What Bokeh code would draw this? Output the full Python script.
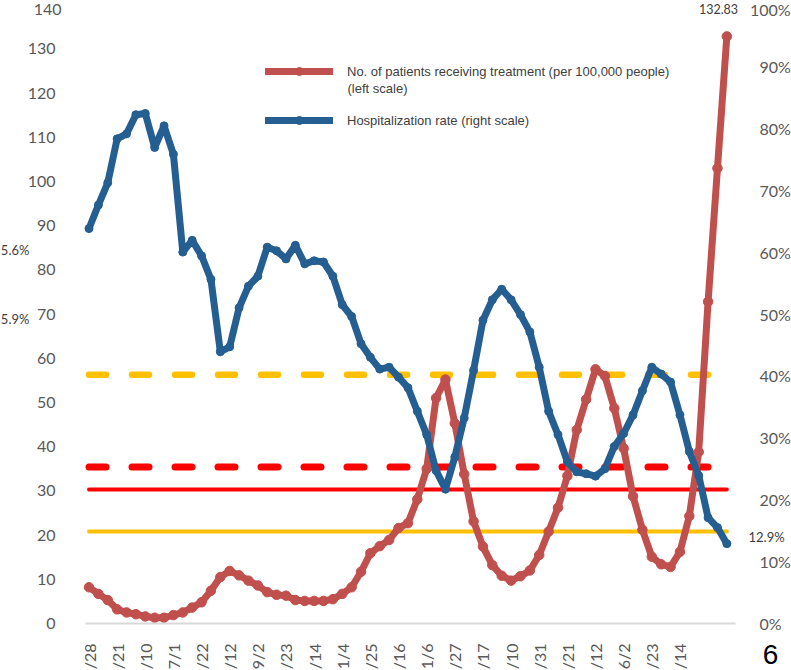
import math
from bokeh.plotting import figure
from bokeh.models import (Range1d, LinearAxis, FixedTicker, PrintfTickFormatter,
                          Legend, LegendItem, Label)
from bokeh.embed import file_html
from bokeh.resources import INLINE

# ---- data ----
x_labels = ["/28", "/21", "/10", "7/1", "/22", "/12", "9/2", "/23", "/14", "1/4", "/25",
            "/16", "1/6", "/27", "/17", "/10", "/31", "/21", "/12", "6/2", "/23", "/14"]

patients = [8.2, 6.7, 5.3, 3.2, 2.5, 2.1, 1.6, 1.3, 1.3, 1.9, 2.5, 3.6, 4.8, 7.4, 10.5,
            11.9, 10.9, 9.7, 8.6, 7.1, 6.5, 6.3, 5.3, 5.1, 5.1, 5.1, 5.5, 6.7, 8.2, 11.7,
            15.9, 17.5, 18.9, 21.6, 22.7, 28.1, 35.0, 51.0, 55.2, 45.3, 33.8, 23.1, 17.4,
            13.2, 10.8, 9.7, 10.7, 12.0, 15.5, 20.8, 26.2, 33.4, 43.8, 50.7, 57.5, 56.0,
            48.7, 39.6, 28.8, 21.2, 15.1, 13.4, 12.8, 16.2, 24.3, 38.8, 72.8, 103.0, 132.83]

hosp_rate = [63.8, 67.6, 71.2, 78.3, 79.1, 82.2, 82.4, 76.9, 80.4, 75.8, 60.0, 61.9, 59.4,
             55.6, 43.9, 44.7, 51.0, 54.5, 56.1, 60.8, 60.2, 58.9, 61.1, 58.1, 58.6, 58.4,
             56.1, 51.5, 49.6, 45.2, 43.0, 41.1, 41.4, 39.8, 38.1, 34.3, 30.5, 24.7, 21.7,
             26.9, 33.2, 40.9, 49.0, 52.3, 54.0, 52.3, 49.9, 47.1, 41.4, 34.3, 30.5, 26.1,
             24.5, 24.2, 23.8, 25.0, 28.6, 30.7, 33.7, 37.6, 41.4, 40.3, 39.0, 33.7, 27.8,
             23.9, 17.1, 15.5, 12.9]

patients_stage3 = 20.8    # left scale
patients_stage4 = 30.3    # left scale
hosp_stage3 = 40.2        # right scale (%)
hosp_stage4 = 25.3        # right scale (%)

left_ticks = list(range(0, 140, 10))     # 140 is written separately (top edge)
right_ticks = list(range(0, 100, 10))    # 100% is written separately (top edge)
left_top_label = "140"
right_top_label = "100%"

n = len(patients)
idx = list(range(n))

# ---- layout: the plotting frame covers the whole canvas; axes sit at fixed places ----
W, H = 791, 670
X0_PX, DX_PX = 88.5, 9.38          # pixel of first category, pixels per category
Y0_PX = 623.0                      # pixel of the zero line
LEFT_PX_PER, RIGHT_PX_PER = 4.42, 6.19
x_lo, x_hi = -0.37, n - 1 + 0.92   # extent of the chart area in category units

p = figure(width=W, height=H, output_backend="svg", toolbar_location=None,
           x_range=Range1d(-X0_PX / DX_PX, (W - X0_PX) / DX_PX),
           y_range=Range1d((Y0_PX - H) / LEFT_PX_PER, Y0_PX / LEFT_PX_PER),
           min_border_left=0, min_border_right=0, min_border_top=0,
           min_border_bottom=0)
p.extra_y_ranges = {"right": Range1d((Y0_PX - H) / RIGHT_PX_PER, Y0_PX / RIGHT_PX_PER)}
p.grid.visible = False
p.outline_line_color = None
p.background_fill_color = "white"
p.border_fill_color = "white"

AX_FONT = "Lato"
AX_COLOR = "#595959"

xa = p.xaxis[0]
xa.fixed_location = 0
xa.bounds = (x_lo, x_hi)
xa.ticker = FixedTicker(ticks=list(range(0, 3 * len(x_labels), 3)))
xa.major_label_overrides = {i * 3: lab for i, lab in enumerate(x_labels)}
xa.major_label_orientation = math.pi / 2
xa.axis_line_color = "#D9D9D9"
xa.axis_line_width = 2
xa.major_tick_line_color = None
xa.minor_tick_line_color = None
xa.major_label_standoff = 14
xa.major_label_text_font = AX_FONT
xa.major_label_text_font_size = "16px"
xa.major_label_text_color = AX_COLOR

ya = p.yaxis[0]
ya.fixed_location = x_lo
ya.bounds = (0, 140)
ya.ticker = FixedTicker(ticks=left_ticks)
ya.axis_line_color = None
ya.major_tick_line_color = None
ya.minor_tick_line_color = None
ya.major_label_standoff = 24
ya.major_label_text_font = AX_FONT
ya.major_label_text_font_size = "16px"
ya.major_label_text_color = AX_COLOR

ra = LinearAxis(y_range_name="right", ticker=FixedTicker(ticks=right_ticks),
                formatter=PrintfTickFormatter(format="%d%%"))
ra.fixed_location = x_hi
ra.bounds = (0, 100)
ra.axis_line_color = None
ra.major_tick_line_color = None
ra.minor_tick_line_color = None
ra.major_label_standoff = 18
ra.major_label_text_font = AX_FONT
ra.major_label_text_font_size = "16px"
ra.major_label_text_color = AX_COLOR
p.add_layout(ra, "right")

# top-edge scale labels, nudged inside the page so they stay whole
p.add_layout(Label(x=-2.93, y=138.9, text=left_top_label, text_align="right",
                   text_baseline="middle", text_font=AX_FONT, text_font_size="16px",
                   text_color=AX_COLOR))
p.add_layout(Label(x=74.8, y=99.2, y_range_name="right", text=right_top_label,
                   text_align="right", text_baseline="middle", text_font=AX_FONT,
                   text_font_size="16px", text_color=AX_COLOR))

# ---- threshold lines ----
p.line(idx, [patients_stage3] * n, line_color="#FFC000", line_width=4, line_cap="round")
p.line(idx, [patients_stage4] * n, line_color="#FF0000", line_width=4, line_cap="round")
p.line(idx, [hosp_stage3] * n, y_range_name="right", line_color="#FFC000",
       line_width=6.5, line_dash="17 26", line_cap="round")
p.line(idx, [hosp_stage4] * n, y_range_name="right", line_color="#FF0000",
       line_width=7, line_dash="17 26", line_cap="round")

# ---- series ----
RED = "#C0504D"
BLUE = "#255E91"
red_line = p.line(idx, patients, line_color=RED, line_width=7, line_cap="round",
                  line_join="round")
red_pts = p.scatter(idx, patients, size=9.5, fill_color=RED, line_color=RED)
blue_line = p.line(idx, hosp_rate, y_range_name="right", line_color=BLUE, line_width=7,
                   line_cap="round", line_join="round")
blue_pts = p.scatter(idx, hosp_rate, y_range_name="right", size=8, fill_color=BLUE,
                     line_color=BLUE)

# ---- legend ----
LEG_FONT = "Liberation Sans"
legend = Legend(items=[
    LegendItem(label="No. of patients receiving treatment (per 100,000 people)",
               renderers=[red_line, red_pts]),
    LegendItem(label="Hospitalization rate (right scale)",
               renderers=[blue_line, blue_pts]),
], location=(265, H - 130), padding=0, margin=0, spacing=29, glyph_width=68,
    glyph_height=20, label_height=20, label_standoff=14,
    border_line_color=None, background_fill_alpha=0,
    label_text_font=LEG_FONT, label_text_font_size="13px",
    label_text_color="#404040")
p.add_layout(legend)

p.add_layout(Label(x=27.56, y=121.0, text="(left scale)", text_align="left",
                   text_baseline="middle", text_font=LEG_FONT,
                   text_font_size="13px", text_color="#404040"))

# ---- value labels and page texts ----
p.add_layout(Label(x=67.11, y=139.1, text="132.83", text_align="center",
                   text_baseline="middle", text_font=AX_FONT, text_font_size="12.5px",
                   text_color="#404040"))
p.add_layout(Label(x=70.31, y=13.9, y_range_name="right", text="12.9%",
                   text_align="left", text_baseline="middle", text_font=AX_FONT,
                   text_font_size="13px", text_color="#404040"))
p.add_layout(Label(x=-6.35, y=84.4, text="5.6%", text_align="right",
                   text_baseline="middle", text_font=AX_FONT, text_font_size="13px",
                   text_color="#404040"))
p.add_layout(Label(x=-6.35, y=69.0, text="5.9%", text_align="right",
                   text_baseline="middle", text_font=AX_FONT, text_font_size="13px",
                   text_color="#404040"))
p.add_layout(Label(x=72.65, y=-7.0, text="6", text_align="center",
                   text_baseline="middle", text_font=LEG_FONT,
                   text_font_size="28px", text_color="#000000"))

open("out.html", "w").write(file_html(p, INLINE))
